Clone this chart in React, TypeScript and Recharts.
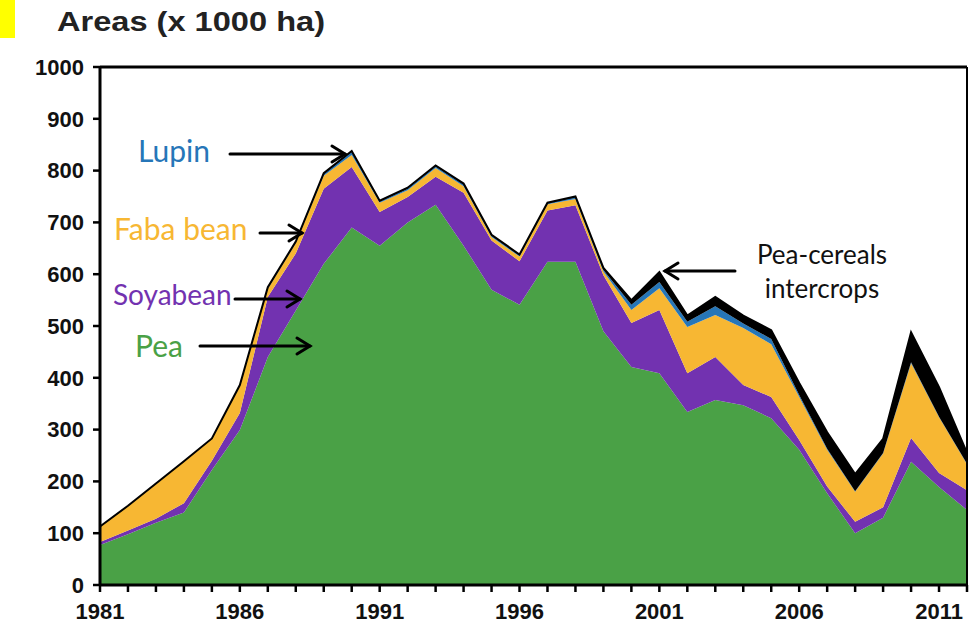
import React from "react";
import { Area, AreaChart, ReferenceLine, XAxis, YAxis } from "recharts";

const years = [
  1981, 1982, 1983, 1984, 1985, 1986, 1987, 1988, 1989, 1990, 1991, 1992, 1993, 1994, 1995, 1996,
  1997, 1998, 1999, 2000, 2001, 2002, 2003, 2004, 2005, 2006, 2007, 2008, 2009, 2010, 2011, 2012,
];
// areas in 1000 ha, one value per year, stacked bottom to top
const pea = [
  77, 98, 120, 140, 222, 299, 440, 530, 620, 690, 655, 700, 734, 655, 570, 541,
  624, 624, 490, 421, 409, 334, 357, 347, 322, 261, 177, 100, 130, 238, 189, 145,
];
const soyabean = [
  6, 7, 8, 18, 18, 33, 116, 110, 145, 117, 65, 49, 54, 102, 95, 84,
  99, 109, 108, 85, 122, 75, 83, 39, 41, 19, 13, 22, 20, 46, 27, 38,
];
const fabaBean = [
  29, 47, 67, 80, 42, 52, 16, 20, 25, 23, 18, 13, 17, 13, 7, 9,
  12, 12, 7, 25, 42, 89, 81, 110, 102, 83, 71, 58, 104, 144, 108, 50,
];
const lupin = [
  0, 0, 0, 0, 0, 1, 2, 2, 3, 6, 2, 3, 3, 3, 2, 2,
  2, 3, 3, 10, 12, 10, 17, 9, 10, 4, 2, 1, 1, 2, 1, 1,
];
const intercrops = [
  1, 1, 1, 1, 1, 1, 1, 1, 2, 2, 2, 2, 2, 2, 2, 2,
  1, 2, 4, 9, 19, 12, 18, 15, 17, 23, 32, 33, 27, 58, 57, 21,
];
const labelYears = [1981, 1986, 1991, 1996, 2001, 2006, 2011];
const yTicks = [0, 100, 200, 300, 400, 500, 600, 700, 800, 900, 1000];

const data = years.map((year, i) => ({
  year,
  pea: pea[i],
  soyabean: soyabean[i],
  fabaBean: fabaBean[i],
  lupin: lupin[i],
  intercrops: intercrops[i],
}));

const GREEN = "#4aa146";
const PURPLE = "#7232b0";
const YELLOW = "#f7b733";
const BLUE = "#2676b8";

const tickFont = { fill: "#111", fontSize: 22, fontWeight: 700, fontFamily: "'Liberation Sans', Arial, sans-serif" };
const noteFont = "Lato, 'Open Sans', sans-serif";

function YearTick(props: any) {
  const { x, y, payload } = props;
  if (!labelYears.includes(payload.value)) return <g />;
  return (
    <text x={x} y={y} dy="0.71em" textAnchor="middle" {...tickFont}>
      {payload.value}
    </text>
  );
}

function Arrow({ x1, x2, y }: { x1: number; x2: number; y: number }) {
  const dir = x2 > x1 ? 1 : -1;
  return (
    <g stroke="#000" strokeWidth={3} fill="none" strokeLinecap="round">
      <line x1={x1} y1={y} x2={x2} y2={y} />
      <polyline points={`${x2 - dir * 13},${y - 8} ${x2},${y} ${x2 - dir * 13},${y + 8}`} />
    </g>
  );
}

export default function App() {
  return (
    <div style={{ position: "absolute", left: 0, top: 0, width: 973, height: 634, background: "#fff" }}>
      <AreaChart width={973} height={634} data={data} margin={{ top: 67, right: 6, bottom: 9, left: 0 }}>
        <XAxis
          dataKey="year"
          type="number"
          domain={[1981, 2012]}
          ticks={years}
          interval={0}
          height={40}
          tick={<YearTick />}
          tickSize={7}
          tickMargin={11}
          axisLine={{ stroke: "#000", strokeWidth: 3 }}
          tickLine={{ stroke: "#000", strokeWidth: 2.5 }}
        />
        <YAxis
          type="number"
          domain={[0, 1000]}
          ticks={yTicks}
          interval={0}
          width={100}
          tick={tickFont}
          tickSize={7}
          tickMargin={9}
          axisLine={{ stroke: "#000", strokeWidth: 3 }}
          tickLine={{ stroke: "#000", strokeWidth: 2.5 }}
        />
        <Area type="linear" dataKey="pea" stackId="a" fill={GREEN} fillOpacity={1} stroke="none" isAnimationActive={false} />
        <Area type="linear" dataKey="soyabean" stackId="a" fill={PURPLE} fillOpacity={1} stroke="none" isAnimationActive={false} />
        <Area type="linear" dataKey="fabaBean" stackId="a" fill={YELLOW} fillOpacity={1} stroke="none" isAnimationActive={false} />
        <Area type="linear" dataKey="lupin" stackId="a" fill={BLUE} fillOpacity={1} stroke="none" isAnimationActive={false} />
        <Area type="linear" dataKey="intercrops" stackId="a" fill="#000" fillOpacity={1} stroke="#000" strokeWidth={2} isAnimationActive={false} />
        <ReferenceLine y={1000} stroke="#000" strokeWidth={3} />
        <ReferenceLine x={2012} stroke="#000" strokeWidth={2} />
      </AreaChart>
      <svg width={973} height={634} style={{ position: "absolute", left: 0, top: 0, pointerEvents: "none" }}>
        <rect x={0} y={0} width={15} height={38} fill="#ffff00" />
        <text x={57} y={31} fontSize={28} fontWeight={700} fontFamily="'Liberation Sans', Arial, sans-serif" fill="#222" textLength={268} lengthAdjust="spacingAndGlyphs">
          Areas (x 1000 ha)
        </text>
        <text x={138} y={162} fontSize={30} fontFamily={noteFont} fill={BLUE}>Lupin</text>
        <Arrow x1={230} x2={345} y={154} />
        <text x={114} y={240} fontSize={30} fontFamily={noteFont} fill={YELLOW}>Faba bean</text>
        <Arrow x1={260} x2={302} y={233} />
        <text x={113} y={305} fontSize={28} fontFamily={noteFont} fill={PURPLE}>Soyabean</text>
        <Arrow x1={235} x2={300} y={299} />
        <text x={135} y={357} fontSize={30} fontFamily={noteFont} fill={GREEN}>Pea</text>
        <Arrow x1={200} x2={310} y={346} />
        <text x={822} y={264} fontSize={26} fontFamily={noteFont} fill="#111" textAnchor="middle">Pea-cereals</text>
        <text x={822} y={298} fontSize={26} fontFamily={noteFont} fill="#111" textAnchor="middle">intercrops</text>
        <Arrow x1={735} x2={665} y={271} />
      </svg>
    </div>
  );
}
